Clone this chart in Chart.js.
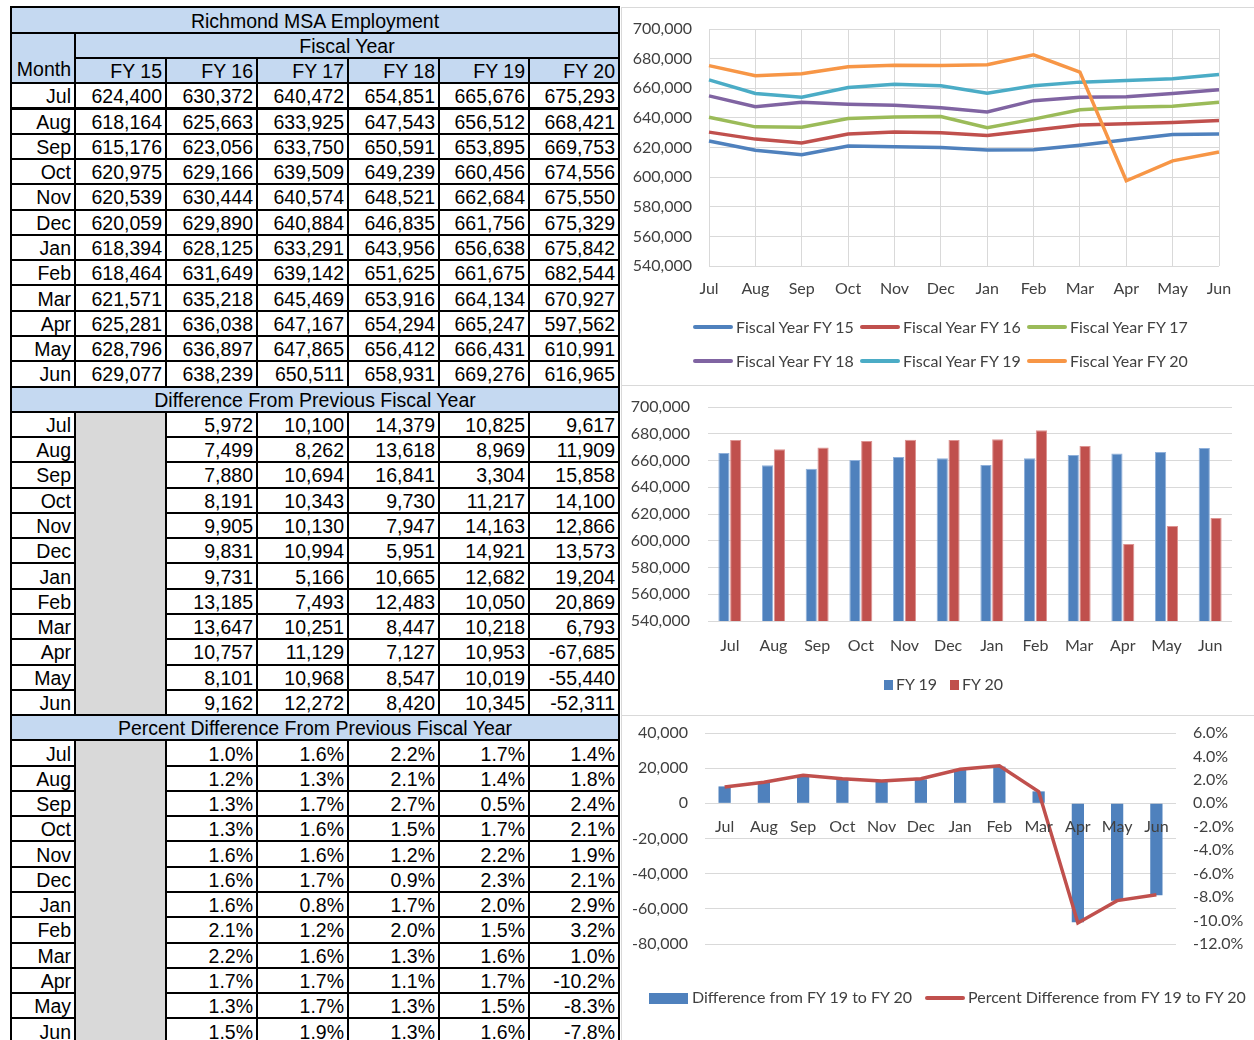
<!DOCTYPE html>
<html>
<head>
<meta charset="utf-8">
<script src="https://cdn.jsdelivr.net/npm/chart.js@4.4.1/dist/chart.umd.min.js"></script>
<style>
  body { margin: 0; background: #fff; width: 1254px; height: 1040px; overflow: hidden; position: relative; }
  .c { position: absolute; box-sizing: border-box; border: 2px solid #000; display: flex; align-items: center;
       justify-content: flex-end; padding: 2px 3px 0 0; font-family: 'Liberation Sans', Arial, sans-serif;
       font-size: 19.5px; color: #000; white-space: nowrap; overflow: hidden; }
  .hd { background: #c5d9f1; }
  .ctr { justify-content: center; padding-right: 0; }
  .gray { background: #d9d9d9; }
  .box { position: absolute; box-sizing: border-box; border: 1px solid #d9d9d9; background: #fff; }
  .lg { position: absolute; font-family: Lato, sans-serif; font-size: 16px; color: #404040; white-space: nowrap; line-height: 16px; }
  .sw { position: absolute; }
</style>
</head>
<body>
<div id="table"></div>
<div class="box" style="left:621px;top:7px;width:634px;height:379px"><canvas id="c1" width="632" height="377"></canvas></div>
<div class="box" style="left:621px;top:385px;width:634px;height:331px"><canvas id="c2" width="632" height="329"></canvas></div>
<div class="box" style="left:621px;top:715px;width:634px;height:326px"><canvas id="c3" width="632" height="324"></canvas></div>
<div id="legends"></div>
<script>
const months = ['Jul', 'Aug', 'Sep', 'Oct', 'Nov', 'Dec', 'Jan', 'Feb', 'Mar', 'Apr', 'May', 'Jun'];
const fyLabels = ['FY 15', 'FY 16', 'FY 17', 'FY 18', 'FY 19', 'FY 20'];

// employment by month
const fy15 = [624400, 618164, 615176, 620975, 620539, 620059, 618394, 618464, 621571, 625281, 628796, 629077];
const fy16 = [630372, 625663, 623056, 629166, 630444, 629890, 628125, 631649, 635218, 636038, 636897, 638239];
const fy17 = [640472, 633925, 633750, 639509, 640574, 640884, 633291, 639142, 645469, 647167, 647865, 650511];
const fy18 = [654851, 647543, 650591, 649239, 648521, 646835, 643956, 651625, 653916, 654294, 656412, 658931];
const fy19 = [665676, 656512, 653895, 660456, 662684, 661756, 656638, 661675, 664134, 665247, 666431, 669276];
const fy20 = [675293, 668421, 669753, 674556, 675550, 675329, 675842, 682544, 670927, 597562, 610991, 616965];

// difference from previous fiscal year (FY 16 .. FY 20)
const diff16 = [5972, 7499, 7880, 8191, 9905, 9831, 9731, 13185, 13647, 10757, 8101, 9162];
const diff17 = [10100, 8262, 10694, 10343, 10130, 10994, 5166, 7493, 10251, 11129, 10968, 12272];
const diff18 = [14379, 13618, 16841, 9730, 7947, 5951, 10665, 12483, 8447, 7127, 8547, 8420];
const diff19 = [10825, 8969, 3304, 11217, 14163, 14921, 12682, 10050, 10218, 10953, 10019, 10345];
const diff20 = [9617, 11909, 15858, 14100, 12866, 13573, 19204, 20869, 6793, -67685, -55440, -52311];

// percent difference from previous fiscal year
const pct16 = [1.0, 1.2, 1.3, 1.3, 1.6, 1.6, 1.6, 2.1, 2.2, 1.7, 1.3, 1.5];
const pct17 = [1.6, 1.3, 1.7, 1.6, 1.6, 1.7, 0.8, 1.2, 1.6, 1.7, 1.7, 1.9];
const pct18 = [2.2, 2.1, 2.7, 1.5, 1.2, 0.9, 1.7, 2.0, 1.3, 1.1, 1.3, 1.3];
const pct19 = [1.7, 1.4, 0.5, 1.7, 2.2, 2.3, 2.0, 1.5, 1.6, 1.7, 1.5, 1.6];
const pct20 = [1.4, 1.8, 2.4, 2.1, 1.9, 2.1, 2.9, 3.2, 1.0, -10.2, -8.3, -7.8];

const seriesColors = ['#4F81BD', '#C0504D', '#9BBB59', '#8064A2', '#4BACC6', '#F79646'];

// ---- table ----
const RH = 25.275, T0 = 7.4;
const COLX = [11, 75, 166, 257, 348, 439, 529, 619];
const tbl = document.getElementById('table');
function cell(c0, c1, r0, r1, text, cls) {
    const d = document.createElement('div');
    d.className = 'c ' + (cls || '');
    d.style.left = (COLX[c0] - 1) + 'px';
    d.style.top = (T0 + r0 * RH - 1) + 'px';
    d.style.width = (COLX[c1] - COLX[c0] + 2) + 'px';
    d.style.height = ((r1 - r0) * RH + 2) + 'px';
    d.textContent = text;
    tbl.appendChild(d);
    return d;
}
const fmt = v => v.toLocaleString('en-US');
const pfmt = v => v.toFixed(1) + '%';

cell(0, 7, 0, 1, 'Richmond MSA Employment', 'hd ctr');
const mc = cell(0, 1, 1, 3, 'Month', 'hd');
mc.style.alignItems = 'flex-end';
mc.style.paddingBottom = '1px';
cell(1, 7, 1, 2, 'Fiscal Year', 'hd ctr');
fyLabels.forEach((l, i) => cell(i + 1, i + 2, 2, 3, l, 'hd'));

const emp = [fy15, fy16, fy17, fy18, fy19, fy20];
months.forEach((m, r) => {
    cell(0, 1, 3 + r, 4 + r, m);
    emp.forEach((s, i) => cell(i + 1, i + 2, 3 + r, 4 + r, fmt(s[r])));
});

cell(0, 7, 15, 16, 'Difference From Previous Fiscal Year', 'hd ctr');
cell(1, 2, 16, 28, '', 'gray');
const diffs = [diff16, diff17, diff18, diff19, diff20];
months.forEach((m, r) => {
    cell(0, 1, 16 + r, 17 + r, m);
    diffs.forEach((s, i) => cell(i + 2, i + 3, 16 + r, 17 + r, fmt(s[r])));
});

cell(0, 7, 28, 29, 'Percent Difference From Previous Fiscal Year', 'hd ctr');
cell(1, 2, 29, 41, '', 'gray');
const pcts = [pct16, pct17, pct18, pct19, pct20];
months.forEach((m, r) => {
    cell(0, 1, 29 + r, 30 + r, m);
    pcts.forEach((s, i) => cell(i + 2, i + 3, 29 + r, 30 + r, pfmt(s[r])));
});

// ---- charts ----
const txt = '#404040';
const gridC = '#d9d9d9';
const font = { family: 'Lato, sans-serif', size: 16 };
// value-axis grid: an invisible tick mark gives the label gap without growing the top padding
const vGrid = gap => ({ color: gridC, drawTicks: true, tickLength: gap, tickColor: 'rgba(0,0,0,0)' });

new Chart(document.getElementById('c1'), {
    type: 'line',
    data: {
        labels: months,
        datasets: emp.map((s, i) => ({
            label: 'Fiscal Year ' + fyLabels[i],
            data: s,
            borderColor: seriesColors[i],
            backgroundColor: seriesColors[i],
            borderWidth: 3.5,
            pointRadius: 0,
            tension: 0,
            order: 5 - i
        }))
    },
    options: {
        responsive: false,
        animation: false,
        layout: { padding: { left: 0, right: 35, top: 21, bottom: 79 } },
        plugins: { legend: { display: false }, tooltip: { enabled: false } },
        scales: {
            x: {
                offset: false,
                grid: { color: gridC, drawTicks: false },
                border: { display: false },
                ticks: { color: txt, font: font, padding: 13, maxRotation: 0, autoSkip: false },
                afterFit: s => { s.height = 40; }
            },
            y: {
                min: 540000, max: 700000,
                grid: vGrid(17),
                border: { display: false },
                ticks: { stepSize: 20000, color: txt, font: font, padding: 0, callback: v => fmt(v) },
                afterFit: s => { s.width = 87; }
            }
        }
    }
});

new Chart(document.getElementById('c2'), {
    type: 'bar',
    data: {
        labels: months,
        datasets: [
            { label: 'FY 19', data: fy19, backgroundColor: '#4F81BD', borderColor: '#8fb0da', borderWidth: 1 },
            { label: 'FY 20', data: fy20, backgroundColor: '#C0504D', borderColor: '#dd9391', borderWidth: 1 }
        ]
    },
    options: {
        responsive: false,
        animation: false,
        layout: { padding: { left: 0, right: 22, top: 21, bottom: 54 } },
        plugins: { legend: { display: false }, tooltip: { enabled: false } },
        datasets: { bar: { categoryPercentage: 0.54, barPercentage: 0.95 } },
        scales: {
            x: {
                grid: { display: false, drawTicks: false },
                border: { display: false },
                ticks: { color: txt, font: font, padding: 15, maxRotation: 0, autoSkip: false },
                afterFit: s => { s.height = 40; }
            },
            y: {
                min: 540000, max: 700000,
                grid: vGrid(18),
                border: { display: false },
                ticks: { stepSize: 20000, color: txt, font: font, padding: 0, callback: v => fmt(v) },
                afterFit: s => { s.width = 86; }
            }
        }
    }
});

new Chart(document.getElementById('c3'), {
    data: {
        labels: months,
        datasets: [
            { type: 'line', label: 'Percent Difference from FY 19 to FY 20', data: pct20, yAxisID: 'y2',
              borderColor: '#C0504D', backgroundColor: '#C0504D', borderWidth: 3.5, pointRadius: 0, tension: 0, order: 0 },
            { type: 'bar', label: 'Difference from FY 19 to FY 20', data: diff20, yAxisID: 'y',
              backgroundColor: '#4F81BD', categoryPercentage: 0.8, barPercentage: 0.39, order: 1 }
        ]
    },
    options: {
        responsive: false,
        animation: false,
        layout: { padding: { left: 0, right: 0, top: 17, bottom: 96 } },
        plugins: { legend: { display: false }, tooltip: { enabled: false } },
        scales: {
            x: {
                position: { y: 0 },
                grid: { display: false, drawTicks: false },
                border: { display: false },
                ticks: { z: 1, color: txt, font: font, padding: 14, maxRotation: 0, autoSkip: false }
            },
            y: {
                position: 'left',
                min: -80000, max: 40000,
                grid: vGrid(17),
                border: { display: false },
                ticks: { stepSize: 20000, color: txt, font: font, padding: 0, callback: v => fmt(v) },
                afterFit: s => { s.width = 83; }
            },
            y2: {
                position: 'right',
                min: -12, max: 6,
                grid: { display: false, drawTicks: true, tickLength: 17, tickColor: 'rgba(0,0,0,0)' },
                border: { display: false },
                ticks: { stepSize: 2, color: txt, font: font, padding: 0, callback: v => pfmt(v) },
                afterFit: s => { s.width = 78; }
            }
        }
    }
});

// ---- legends (html) ----
const lg = document.getElementById('legends');
function swatch(x, y, w, h, color) {
    const d = document.createElement('div');
    d.className = 'sw';
    Object.assign(d.style, { left: x + 'px', top: (y - h / 2) + 'px', width: w + 'px', height: h + 'px', background: color, borderRadius: h < 5 ? '2px' : '0' });
    lg.appendChild(d);
}
function label(x, y, text) {
    const d = document.createElement('div');
    d.className = 'lg';
    d.style.left = x + 'px';
    d.style.top = (y - 8) + 'px';
    d.textContent = text;
    lg.appendChild(d);
}
const legX = [693, 860, 1027];
const legY = [327, 361];
fyLabels.forEach((l, i) => {
    const x = legX[i % 3], y = legY[Math.floor(i / 3)];
    swatch(x, y, 40, 4, seriesColors[i]);
    label(x + 43, y, 'Fiscal Year ' + l);
});
swatch(884, 685, 9, 10, '#4F81BD');
label(896, 684, 'FY 19');
swatch(950, 685, 9, 10, '#C0504D');
label(962, 684, 'FY 20');
swatch(649, 998, 39, 11, '#4F81BD');
label(692, 997, 'Difference from FY 19 to FY 20');
swatch(925, 998, 40, 4, '#C0504D');
label(968, 997, 'Percent Difference from FY 19 to FY 20');
</script>
</body>
</html>
